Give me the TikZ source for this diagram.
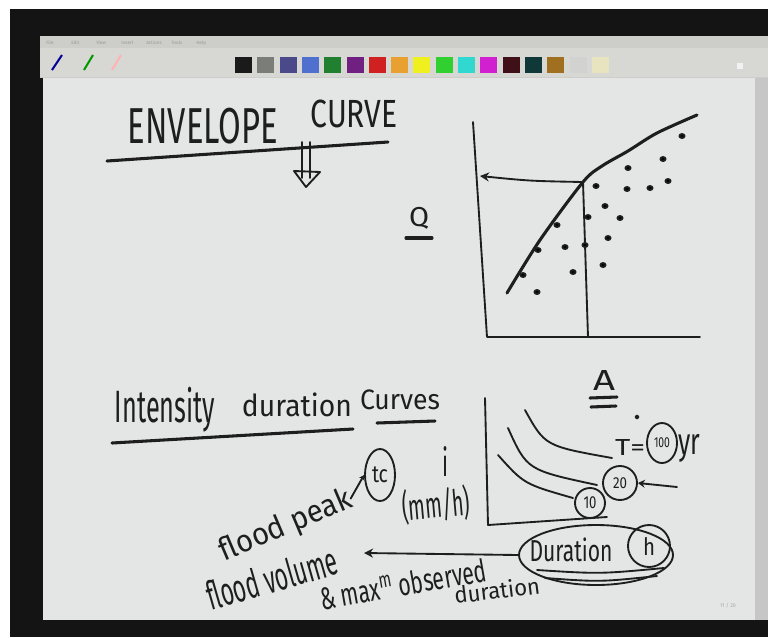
\documentclass[tikz,border=0pt]{standalone}
\usepackage{fontspec}
\setsansfont{Fira Sans}
\usetikzlibrary{arrows.meta,shapes.geometric}
\definecolor{ink}{HTML}{1E1E1E}
\definecolor{board}{HTML}{E4E6E6}
\definecolor{chrome}{HTML}{CDCDC9}
\newlength\px \setlength\px{0.75pt}
% handwritten text squeezed to a box of w x h pixels
\newcommand\hw[3]{\resizebox*{#1\px}{#2\px}{#3}}
\tikzset{
  hand/.style={inner sep=0pt,text=ink,font=\sffamily},
  ink/.style={draw=ink,line width=1.4pt,line cap=round,line join=round},
  heavy/.style={ink,line width=2.3pt},
  ring/.style={ellipse,ink,inner sep=0pt,text=ink,font=\sffamily},
  tip/.style={-{Stealth[open,length=6.8pt,width=6.8pt]}}
}

\begin{document}
\begin{tikzpicture}[x=0.75pt,y=-0.75pt]
  \useasboundingbox (0,0) rectangle (768,637);
  % window chrome
  \fill[white] (0,0) rectangle (768,637);
  \fill[black!92] (10,9) rectangle (768,637);
  \fill[chrome] (40,36) rectangle (768,78);
  \fill[chrome!80] (40,48) rectangle (768,77);
  \fill[board] (43,78) rectangle (755,620);
  \fill[gray!45] (755,78) rectangle (768,620);
  \foreach \w [count=\i from 0] in {File,Edit,View,Insert,Actions,Tools,Help}
    \node[inner sep=0pt,text=gray!80,font=\sffamily\fontsize{3.5}{4}\selectfont,anchor=west] (menu\i) at (46+25*\i,43) {\w};
  \draw[blue!60!black,line width=1.5pt] (52,70) -- (62,55);
  \draw[green!60!black,line width=1.5pt] (84,70) -- (93,55);
  \draw[red!30,line width=1.5pt] (112,70) -- (121,55);
  \foreach \c [count=\i from 0] in {1A1A1A,7A7D78,4A4A8A,5070D0,208030,702080,D02020,E8A030,F0F020,30D030,30D8D0,D020D0,401018,103838,A07020,D2D2D0,E8E4C0}{
    \definecolor{sw}{HTML}{\c}
    \fill[sw] (235+22.3*\i,57) rectangle +(17,16);
  }
  \fill[white!90!gray] (737,63) rectangle +(6,6);

  % envelope curve
  \node[hand] (env) at (203,126) {\hw{150}{36}{ENVELOPE}};
  \node[hand] (curve) at (354,114) {\hw{87}{28}{CURVE}};
  \draw[heavy] (107,161) -- (240,152) -- (388,142);
  \draw[ink] (302,142) -- (302,178);
  \draw[ink] (310,142) -- (310,178);
  \draw[ink] (294,171) -- (320,172) -- (306,187) -- cycle;
  \node[hand] (q) at (419,218) {\hw{20}{22}{Q}};
  \draw[heavy] (406,238) -- (432,238);

  % Q against A
  \draw[ink] (473,122) -- (487,337) -- (700,337);
  \coordinate (meet) at (583,182);
  \coordinate (qaxis) at (480,176);
  \draw[heavy] plot[smooth] coordinates {(507,293) (540,240) (583,182) (602,166) (628,151) (657,133) (697,115)};
  \draw[ink,tip] (meet) .. controls (530,181) .. (qaxis);
  \draw[ink] (meet) -- (588,337);
  \foreach \p in {(523,275),(537,292),(538,250),(557,225),(565,247),(573,272),(585,245),(588,217),(596,186),(605,206),(608,238),(603,265),(620,218),(627,189),(628,168),(650,188),(663,159),(668,181),(682,136)}
    \fill[ink] \p ellipse (2.6 and 2);
  \node[hand] (a) at (604,380) {\hw{22}{20}{A}};
  \draw[heavy] (590,398) -- (617,397);
  \draw[heavy] (591,407) -- (616,406);

  % intensity duration curves
  \node[hand] (ints) at (165,410) {\hw{100}{45}{Intensity}};
  \node[hand] (dura) at (297,405) {\hw{110}{24}{duration}};
  \node[hand] (crvs) at (400,400) {\hw{80}{20}{Curves}};
  \draw[heavy] (112,443) -- (353,429);
  \draw[heavy] (377,423) -- (435,421);
  \draw[ink] (485,398) -- (488,525) -- (607,517);
  \draw[ink] (525,410) .. controls (545,446) .. (612,458);
  \draw[ink] (508,428) .. controls (527,470) .. (597,485);
  \draw[ink] (498,455) .. controls (524,484) .. (573,498);
  \fill[ink] (637,417) circle (1.5);
  \node[hand] (teq) at (630,447) {\hw{30}{16}{T=}};
  \node[ring,minimum width=22.5pt,minimum height=30pt] (t100) at (662,443) {\hw{16}{10}{100}};
  \node[hand] (yr) at (689,448) {\hw{22}{28}{yr}};
  \node[ring,minimum width=25.5pt,minimum height=25.5pt] (c20) at (620,483) {\hw{14}{11}{20}};
  \node[ring,minimum width=22.5pt,minimum height=22.5pt] (c10) at (590,503) {\hw{13}{12}{10}};
  \coordinate (tail20) at (677,487);
  \draw[ink,-{Stealth[length=5.2pt,width=6pt]}] (tail20) -- (c20.east);

  \node[ring,minimum width=115.5pt,minimum height=45pt] (durbox) at (596,555) {};
  \node[hand] (dur) at (571,550) {\hw{83}{24}{Duration}};
  \node[ring,minimum width=31.5pt,minimum height=31.5pt] (hbox) at (649,546) {\hw{12}{18}{h}};
  \draw[ink] (537,570) .. controls (600,574) .. (664,568);
  \draw[ink] (545,578) .. controls (600,582) .. (657,576);
  \coordinate (volhead) at (364,553);
  \draw[ink,tip] (durbox.west) -- (volhead);

  \node[hand,rotate=23] (fpeak) at (286,526) {\hw{140}{30}{flood peak}};
  \node[ring,minimum width=22.5pt,minimum height=39pt] (tc) at (380,475) {\hw{16}{16}{tc}};
  \draw[ink,-{Stealth[length=3.8pt,width=4.5pt]}] (fpeak.east) -- (tc.west);
  \node[hand] (ivar) at (445,461) {\hw{6}{30}{i}};
  \node[hand,rotate=5] (mmh) at (436,505) {\hw{68}{36}{(mm/h)}};
  \node[hand,rotate=16] (fvol) at (272,578) {\hw{134}{30}{flood volume}};
  \node[hand,rotate=10] (maxobs) at (403,584) {\hw{168}{24}{\& max\textsuperscript{m} observed}};
  \node[hand,rotate=7] (dura2) at (497,590) {\hw{86}{18}{duration}};
  \node[inner sep=0pt,text=gray!70,font=\sffamily\fontsize{4}{5}\selectfont] (page) at (728,606) {11 / 20};
\end{tikzpicture}
\end{document}
